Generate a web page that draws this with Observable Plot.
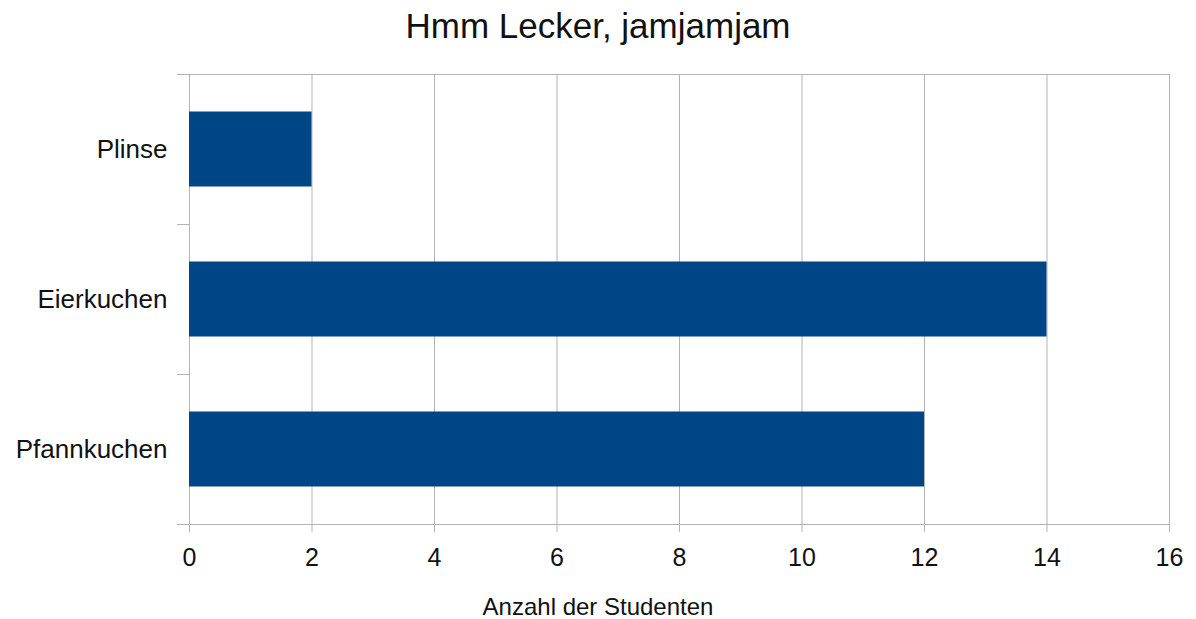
<!DOCTYPE html>
<html>
<head>
<meta charset="utf-8">
<script src="https://cdn.jsdelivr.net/npm/d3@7"></script>
<script src="https://cdn.jsdelivr.net/npm/@observablehq/plot@0.6"></script>
<style>
  html, body { margin: 0; padding: 0; background: #fff; }
  #wrap { position: relative; width: 1196px; height: 619px; font-family: "Liberation Sans", Arial, sans-serif; color: #111; }
  #title { height: 60px; line-height: 52px; font-size: 35px; text-align: center; }
  #xlabel { position: absolute; left: 0; width: 1196px; top: 595px; line-height: 24px; font-size: 24px; text-align: center; }
</style>
</head>
<body>
<div id="wrap">
  <div id="title">Hmm Lecker, jamjamjam</div>
  <div id="chart"></div>
  <div id="xlabel">Anzahl der Studenten</div>
</div>
<script>
const categories = ["Plinse", "Eierkuchen", "Pfannkuchen"];
const values = [2, 14, 12];
const xTicks = [0, 2, 4, 6, 8, 10, 12, 14, 16];

const data = categories.map((c, i) => ({category: c, index: i, value: values[i]}));
const grid = "#b3b3b3";

const chart = Plot.plot({
  width: 1196,
  height: 559,
  marginTop: 14,
  marginBottom: 95,
  marginLeft: 189,
  marginRight: 27,
  style: {fontFamily: "Liberation Sans, Arial, sans-serif", color: "#111", background: "#fff"},
  x: {domain: [0, 16]},
  y: {domain: [0, 3], reverse: true},
  marks: [
    Plot.gridX(xTicks, {stroke: grid, strokeOpacity: 1}),
    Plot.ruleY([0, 3], {stroke: grid}),
    Plot.rectX(data, {
      x1: 0,
      x2: "value",
      y1: d => d.index + 0.25,
      y2: d => d.index + 0.75,
      fill: "#004586"
    }),
    Plot.axisX({ticks: xTicks, tickSize: 8, tickPadding: 16, fontSize: 25, stroke: grid, fill: "#111", label: null}),
    Plot.axisY({ticks: [0, 1, 2, 3], tickSize: 12, tickFormat: () => "", stroke: grid, label: null}),
    Plot.axisY({
      ticks: categories.map((c, i) => i + 0.5),
      tickFormat: d => categories[Math.floor(d)],
      tickSize: 0,
      tickPadding: 22,
      fontSize: 26,
      fill: "#111",
      label: null
    })
  ]
});
document.getElementById("chart").appendChild(chart);
</script>
</body>
</html>
